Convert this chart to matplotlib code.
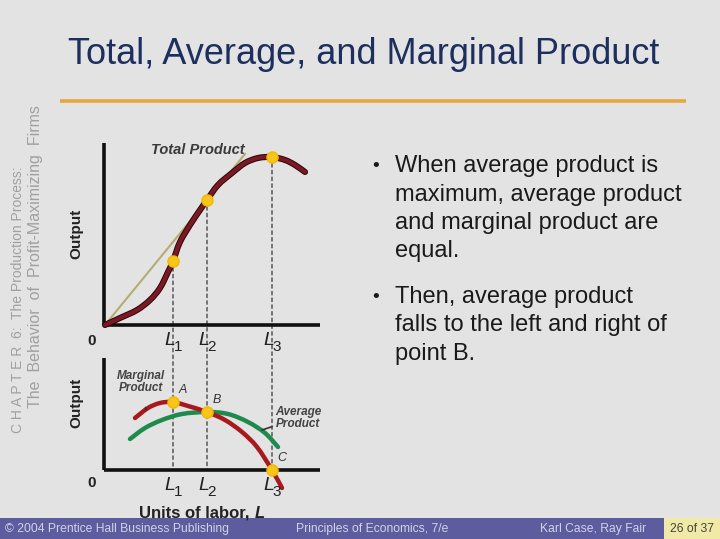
import matplotlib

matplotlib.use("Agg")
import matplotlib.pyplot as plt  # noqa: E402
import matplotlib.patheffects as pe  # noqa: E402
from matplotlib.patches import ConnectionPatch, PathPatch, Rectangle  # noqa: E402
from matplotlib.path import Path  # noqa: E402

plt.rcParams["font.family"] = ["Liberation Sans", "DejaVu Sans"]

# values (labor units, output units)
labor_tp = [0, 1.5, 3.2, 4.5, 5.5, 6.3, 6.8, 7.5, 8.5, 9.5, 10.2, 11.3, 12.7,
            14.0, 15.3, 16.7, 18.0, 19.0, 20.0]
total_product = [0, 0.7, 1.5, 2.5, 3.7, 5.3, 6.4, 8.3, 10.0, 11.5, 12.5, 14.0,
                 15.2, 16.2, 16.7, 16.8, 16.5, 16.0, 15.3]
tangent_x = [0, 14.0]
tangent_y = [0, 17.1]

labor_mp = [3.0, 4.3, 5.5, 6.8, 8.3, 10.2, 12.0, 13.7, 15.2, 16.7, 17.7]
marginal_product = [5.2, 6.2, 6.7, 6.8, 6.4, 5.8, 5.0, 3.8, 2.3, 0.0, -1.8]
labor_ap = [2.5, 4.0, 5.7, 7.7, 10.2, 12.3, 14.3, 16.0, 17.3]
average_product = [3.1, 4.2, 5.0, 5.6, 5.8, 5.6, 4.8, 3.7, 2.3]

l_points = [6.8, 10.2, 16.7]
l_subs = ["1", "2", "3"]
tp_at_l = [6.4, 12.5, 16.8]
abc_labels = ["A", "B", "C"]
abc_y = [6.8, 5.8, 0.0]

bullets = [
    ["When average product is", "maximum, average product",
     "and marginal product are", "equal."],
    ["Then, average product", "falls to the left and right of", "point B."],
]


def smooth_curve(ax, xs, ys, color, lw, edge=None, zorder=3):
    """Draw a curve through the read points as Catmull-Rom Bezier segments."""
    pts = list(zip(xs, ys))
    verts = [pts[0]]
    codes = [Path.MOVETO]
    for i in range(len(pts) - 1):
        p0 = pts[max(i - 1, 0)]
        p1, p2 = pts[i], pts[i + 1]
        p3 = pts[min(i + 2, len(pts) - 1)]
        c1 = (p1[0] + (p2[0] - p0[0]) / 6, p1[1] + (p2[1] - p0[1]) / 6)
        c2 = (p2[0] - (p3[0] - p1[0]) / 6, p2[1] - (p3[1] - p1[1]) / 6)
        verts += [c1, c2, p2]
        codes += [Path.CURVE4] * 3
    patch = PathPatch(Path(verts, codes), fill=False, edgecolor=color, lw=lw,
                      capstyle="round", joinstyle="round", zorder=zorder,
                      clip_on=False)
    if edge:
        patch.set_path_effects([pe.Stroke(linewidth=lw + 1.4, foreground=edge),
                                pe.Normal()])
    ax.add_patch(patch)


W, H = 720, 539
fig = plt.figure(figsize=(W / 100, H / 100), dpi=100, facecolor="#e3e3e3")

# slide furniture in pixel coordinates
bg = fig.add_axes([0, 0, 1, 1], zorder=-2)
bg.set_xlim(0, W)
bg.set_ylim(H, 0)
bg.axis("off")
bg.text(68, 64, "Total, Average, and Marginal Product", fontsize=26,
        color="#1d2f5e", va="baseline")
bg.plot([60, 686], [101, 101], color="#e9a640", lw=2.6, solid_capstyle="butt")
bg.text(18, 433, "C H A P T E R  6:  The Production Process:", rotation=90,
        fontsize=10, color="#a0a0a0", ha="center", va="bottom")
bg.text(36, 408, "The  Behavior  of  Profit-Maximizing  Firms", rotation=90,
        fontsize=11.5, color="#a0a0a0", ha="center", va="bottom")

for block, y0 in zip(bullets, [172, 303]):
    bg.text(372, y0 - 1, "\u2022", fontsize=14, color="#1a1a1a", va="baseline")
    for i, line in enumerate(block):
        bg.text(395, y0 + i * 28.5, line, fontsize=17, color="#1a1a1a",
                va="baseline")

bg.add_patch(Rectangle((0, 518), W, 21, color="#5c5c9e", lw=0))
bg.add_patch(Rectangle((664, 518), 56, 21, color="#f1eaa6", lw=0))
foot = dict(fontsize=8.7, color="#d2d2e8", va="center")
bg.text(5, 529, "\u00a9 2004 Prentice Hall Business Publishing", **foot)
bg.text(296, 529, "Principles of Economics, 7/e", **foot)
bg.text(540, 529, "Karl Case, Ray Fair", **foot)
bg.text(692, 529, "26 of 37", fontsize=8.7, color="#444444", va="center",
        ha="center")

# chart axes
x0, x1 = 104, 320
ax1 = fig.add_axes([x0 / W, (H - 325) / H, (x1 - x0) / W, (325 - 143) / H])
ax2 = fig.add_axes([x0 / W, (H - 470) / H, (x1 - x0) / W, (470 - 358) / H])
for ax, top in ((ax1, 18.2), (ax2, 11.2)):
    ax.set_xlim(-0.1, 21.5)
    ax.set_ylim(0, top)
    ax.set_facecolor("none")
    ax.set_xticks([])
    ax.set_yticks([])
    for s in ("top", "right"):
        ax.spines[s].set_visible(False)
    for s in ("left", "bottom"):
        ax.spines[s].set_linewidth(2.6)
        ax.spines[s].set_color("#111111")
        ax.spines[s].set_capstyle("butt")

# top: total product
ax1.plot(tangent_x, tangent_y, color="#b3ad72", lw=1.5, zorder=2)
smooth_curve(ax1, labor_tp, total_product, "#7a1824", 3.0, edge="#2a0508")
ax1.plot(l_points, tp_at_l, "o", color="#f6c61a", ms=8, mec="#f2b800", zorder=4)
ax1.text(9.3, 17.5, "Total Product", fontsize=10.5, fontweight="bold",
         style="italic", color="#3a3a3a", ha="center", va="center")

# bottom: marginal and average product
smooth_curve(ax2, labor_ap, average_product, "#1e8a4c", 3.2, zorder=2)
smooth_curve(ax2, labor_mp, marginal_product, "#a8191d", 3.2, zorder=3)
ax2.plot(l_points, abc_y, "o", color="#f6c61a", ms=8, mec="#f2b800", zorder=4,
         clip_on=False)
for lx, ly, lab in zip(l_points, abc_y, abc_labels):
    ax2.text(lx + 0.55, ly + 0.6, lab, fontsize=9, style="italic",
             color="#333333", ha="left", va="bottom")
ax2.annotate("Marginal\nProduct", xy=(4.1, 6.0), xytext=(3.6, 8.8),
             fontsize=8.5, fontweight="bold", style="italic", color="#444444",
             ha="center", va="center", linespacing=0.95,
             arrowprops=dict(arrowstyle="-", color="#333333", lw=1.2,
                             shrinkA=8, shrinkB=0))
ax2.annotate("Average\nProduct", xy=(15.7, 4.0), xytext=(19.3, 5.2),
             fontsize=8.5, fontweight="bold", style="italic", color="#444444",
             ha="center", va="center", linespacing=0.95,
             arrowprops=dict(arrowstyle="-", color="#333333", lw=1.2,
                             shrinkA=12, shrinkB=0))

# dashed guides from the total product points down to the labor axis
for lx, ly in zip(l_points, tp_at_l):
    con = ConnectionPatch(xyA=(lx, ly), coordsA=ax1.transData,
                          xyB=(lx, 0), coordsB=ax2.transData,
                          color="#555555", lw=1.1, linestyle=(0, (2.2, 2.2)),
                          zorder=-1)
    fig.add_artist(con)

# axis labels
for ax, yc in ((ax1, 0.5), (ax2, 0.6)):
    ax.text(-0.13, yc, "Output", rotation=90, fontsize=11, fontweight="bold",
            color="#222222", ha="center", va="center", transform=ax.transAxes)
    ax.text(-0.055, -0.05, "0", fontsize=11, fontweight="bold",
            color="#222222", ha="center", va="top", transform=ax.transAxes)
for ax in (ax1, ax2):
    for lx, sub in zip(l_points, l_subs):
        ax.annotate("L", xy=(lx, 0), xycoords=ax.get_xaxis_transform(),
                    xytext=(1.5, -5), textcoords="offset points", fontsize=14,
                    style="italic", color="#222222", ha="right", va="top")
        ax.annotate(sub, xy=(lx, 0), xycoords=ax.get_xaxis_transform(),
                    xytext=(0.5, -11), textcoords="offset points", fontsize=11,
                    color="#222222", ha="left", va="top")
units = ax2.text(0.43, -0.32, "Units of labor, ", fontsize=12,
                 fontweight="bold", color="#222222", ha="center", va="top",
                 transform=ax2.transAxes)
ax2.annotate("L", xy=(1, 0), xycoords=units, fontsize=12, fontweight="bold",
             style="italic", color="#222222", ha="left", va="bottom")

fig.savefig("out.png", dpi=100, facecolor=fig.get_facecolor())
